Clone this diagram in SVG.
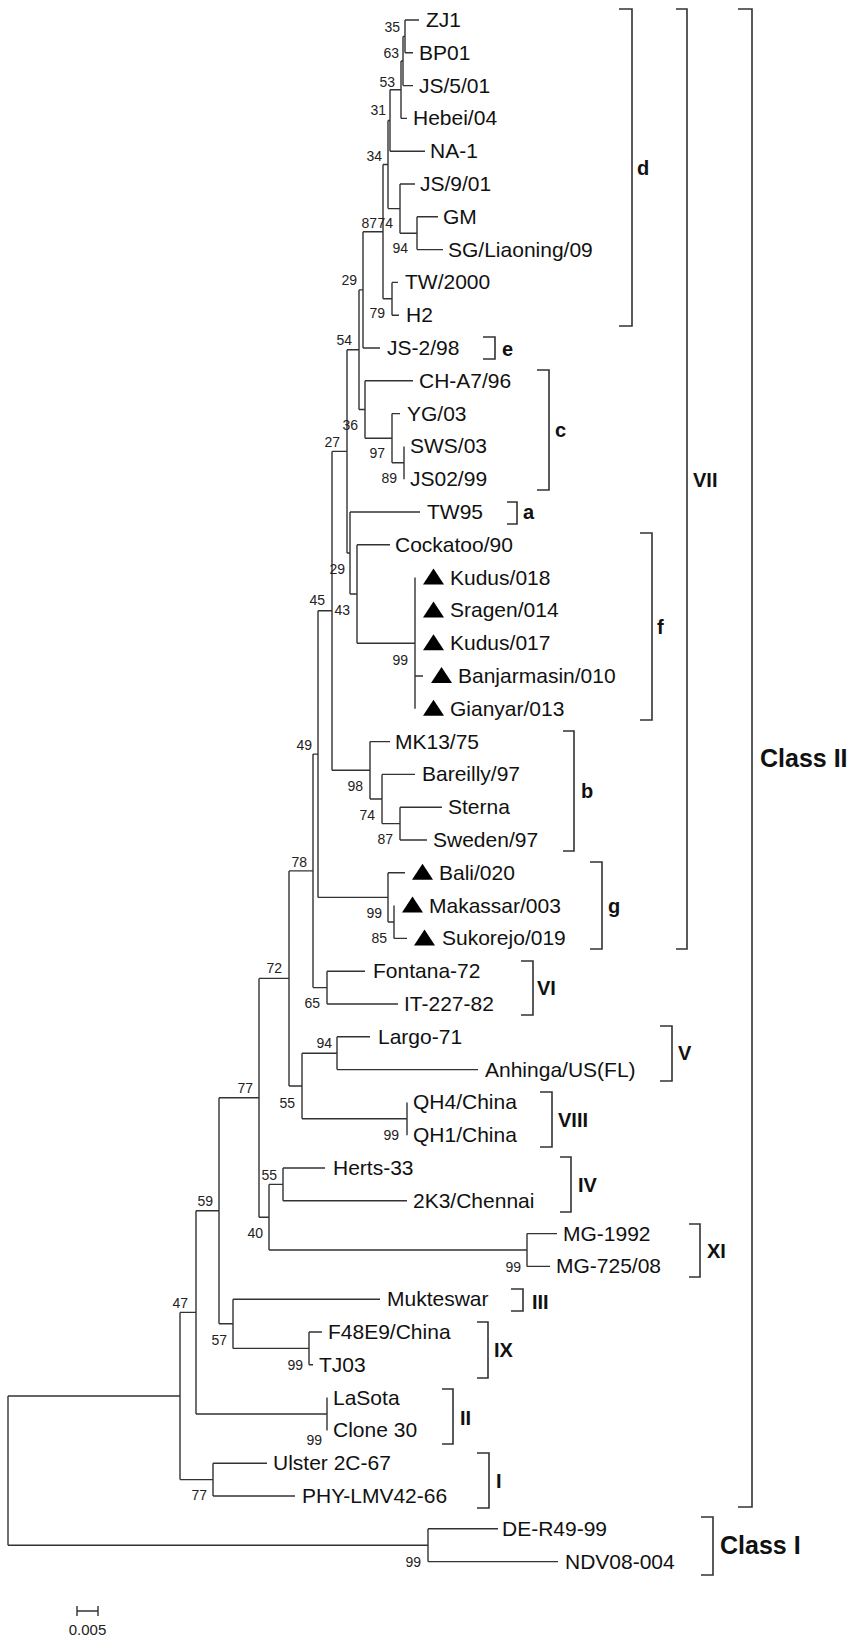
<svg xmlns="http://www.w3.org/2000/svg" width="852" height="1638" viewBox="0 0 852 1638">
<style>
.br{fill:none;stroke:#333;stroke-width:1.4}
.bk{fill:none;stroke:#333;stroke-width:1.6}
.lf{font-family:"Liberation Sans",Arial,sans-serif;font-size:21px;fill:#111}
.bs{font-family:"Liberation Sans",Arial,sans-serif;font-size:14px;fill:#222;text-anchor:end}
.gl{font-family:"Liberation Sans",Arial,sans-serif;font-size:20px;font-weight:bold;fill:#111}
.cl{font-family:"Liberation Sans",Arial,sans-serif;font-size:25px;font-weight:bold;fill:#111}
.tri{fill:#000}
</style>
<defs>
<polygon id="tri" class="tri" points="0,7 21,7 10.5,-9"/>
</defs>
<rect width="852" height="1638" fill="#fff"/>
<g id="branches" class="br">
<path d="M405 20V52.8M405 20H419M405 52.8H413
M403 36.4V85.6M403 36.4H405M403 85.6H413
M401 61V118.4M401 61H403M401 118.4H407
M390 89.7V151.2M390 89.7H401M390 151.2H425
M400 184V233.2M400 184H415M400 233.2H417
M417 216.8V249.6M417 216.8H438M417 249.6H443
M388 120.5V208.6M388 120.5H390M388 208.6H400
M392 282.4V315.2M392 282.4H398M392 315.2H399
M383 164.5V298.8M383 164.5H388M383 298.8H392
M363 231.7V348M363 231.7H383M363 348H380
M404 446.4V479.2
M392 413.6V462.8M392 413.6H400M392 462.8H404
M365 380.8V438.2M365 380.8H413M365 438.2H392
M359 289.9V409.5M359 289.9H363M359 409.5H365
M415 577.6V708.8M415 676H423
M357 544.8V643.2M357 544.8H390M357 643.2H415
M350 512V594M350 512H420M350 594H357
M347 349.7V553M347 349.7H359M347 553H350
M400 807.2V840M400 807.2H442M400 840H427
M382 774.4V823.6M382 774.4H415M382 823.6H400
M370 741.6V799M370 741.6H390M370 799H382
M332 451.4V770.3M332 451.4H347M332 770.3H370
M394 905.6V938.4M394 938.4H407
M388 872.8V922M388 872.8H405M388 922H394
M318 610.8V897.4M318 610.8H332M318 897.4H388
M327 971.2V1004M327 971.2H365M327 1004H398
M313 754.1V987.6M313 754.1H318M313 987.6H327
M337 1036.8V1069.6M337 1036.8H370M337 1069.6H478
M407 1102.4V1135.2
M302 1053.2V1118.8M302 1053.2H337M302 1118.8H407
M289 870.9V1086M289 870.9H313M289 1086H302
M283 1168V1200.8M283 1168H325M283 1200.8H407
M527 1233.6V1266.4M527 1233.6H557M527 1266.4H550
M269 1184.4V1250M269 1184.4H283M269 1250H527
M259 978.4V1217.2M259 978.4H289M259 1217.2H269
M309 1332V1364.8M309 1332H322M309 1364.8H313
M233 1299.2V1348.4M233 1299.2H380M233 1348.4H309
M219 1097.8V1323.8M219 1097.8H259M219 1323.8H233
M327 1397.6V1430.4
M196 1210.8V1414M196 1210.8H219M196 1414H327
M213 1463.2V1496M213 1463.2H267M213 1496H295
M180 1312.4V1479.6M180 1312.4H196M180 1479.6H213
M428 1528.8V1561.6M428 1528.8H498M428 1561.6H558
M8 1396V1545.2M8 1396H180M8 1545.2H428"/>
</g>
<g id="bootstrap" class="bs">
<text x="400" y="32">35</text>
<text x="399" y="58">63</text>
<text x="395" y="87">53</text>
<text x="386" y="115">31</text>
<text x="382" y="161">34</text>
<text x="377" y="228">87</text>
<text x="393" y="228">74</text>
<text x="408" y="253">94</text>
<text x="357" y="285">29</text>
<text x="385" y="318">79</text>
<text x="352" y="345">54</text>
<text x="358" y="430">36</text>
<text x="340" y="447">27</text>
<text x="385" y="458">97</text>
<text x="397" y="483">89</text>
<text x="345" y="574">29</text>
<text x="350" y="615">43</text>
<text x="325" y="605">45</text>
<text x="408" y="665">99</text>
<text x="312" y="750">49</text>
<text x="363" y="791">98</text>
<text x="375" y="820">74</text>
<text x="393" y="844">87</text>
<text x="307" y="867">78</text>
<text x="382" y="918">99</text>
<text x="387" y="943">85</text>
<text x="282" y="973">72</text>
<text x="320" y="1008">65</text>
<text x="332" y="1048">94</text>
<text x="295" y="1108">55</text>
<text x="399" y="1140">99</text>
<text x="253" y="1093">77</text>
<text x="277" y="1180">55</text>
<text x="263" y="1238">40</text>
<text x="213" y="1206">59</text>
<text x="521" y="1272">99</text>
<text x="188" y="1308">47</text>
<text x="227" y="1345">57</text>
<text x="303" y="1370">99</text>
<text x="322" y="1445">99</text>
<text x="207" y="1500">77</text>
<text x="421" y="1567">99</text>
</g>
<g id="leaves" class="lf">
<g id="n-ZJ1"><text x="426" y="27">ZJ1</text></g>
<g id="n-BP01"><text x="419" y="60">BP01</text></g>
<g id="n-JS5"><text x="419" y="93">JS/5/01</text></g>
<g id="n-Hebei"><text x="413" y="125">Hebei/04</text></g>
<g id="n-NA1"><text x="430" y="158">NA-1</text></g>
<g id="n-JS9"><text x="420" y="191">JS/9/01</text></g>
<g id="n-GM"><text x="443" y="224">GM</text></g>
<g id="n-SG"><text x="448" y="257">SG/Liaoning/09</text></g>
<g id="n-TW2000"><text x="405" y="289">TW/2000</text></g>
<g id="n-H2"><text x="406" y="322">H2</text></g>
<g id="n-JS2"><text x="387" y="355">JS-2/98</text></g>
<g id="n-CHA7"><text x="419" y="388">CH-A7/96</text></g>
<g id="n-YG"><text x="407" y="421">YG/03</text></g>
<g id="n-SWS"><text x="410" y="453">SWS/03</text></g>
<g id="n-JS02"><text x="410" y="486">JS02/99</text></g>
<g id="n-TW95"><text x="427" y="519">TW95</text></g>
<g id="n-Cockatoo"><text x="395" y="552">Cockatoo/90</text></g>
<g id="n-Kudus018"><use href="#tri" x="423" y="577.6"/><text x="450" y="585">Kudus/018</text></g>
<g id="n-Sragen"><use href="#tri" x="423" y="610.4"/><text x="450" y="617">Sragen/014</text></g>
<g id="n-Kudus017"><use href="#tri" x="423" y="643.2"/><text x="450" y="650">Kudus/017</text></g>
<g id="n-Banjarmasin"><use href="#tri" x="431" y="676"/><text x="458" y="683">Banjarmasin/010</text></g>
<g id="n-Gianyar"><use href="#tri" x="423" y="708.8"/><text x="450" y="716">Gianyar/013</text></g>
<g id="n-MK13"><text x="395" y="749">MK13/75</text></g>
<g id="n-Bareilly"><text x="422" y="781">Bareilly/97</text></g>
<g id="n-Sterna"><text x="448" y="814">Sterna</text></g>
<g id="n-Sweden"><text x="433" y="847">Sweden/97</text></g>
<g id="n-Bali"><use href="#tri" x="412" y="872.8"/><text x="439" y="880">Bali/020</text></g>
<g id="n-Makassar"><use href="#tri" x="402" y="905.6"/><text x="429" y="913">Makassar/003</text></g>
<g id="n-Sukorejo"><use href="#tri" x="414" y="938.4"/><text x="442" y="945">Sukorejo/019</text></g>
<g id="n-Fontana"><text x="373" y="978">Fontana-72</text></g>
<g id="n-IT227"><text x="404" y="1011">IT-227-82</text></g>
<g id="n-Largo"><text x="378" y="1044">Largo-71</text></g>
<g id="n-Anhinga"><text x="485" y="1077">Anhinga/US(FL)</text></g>
<g id="n-QH4"><text x="413" y="1109">QH4/China</text></g>
<g id="n-QH1"><text x="413" y="1142">QH1/China</text></g>
<g id="n-Herts"><text x="333" y="1175">Herts-33</text></g>
<g id="n-2K3"><text x="413" y="1208">2K3/Chennai</text></g>
<g id="n-MG1992"><text x="563" y="1241">MG-1992</text></g>
<g id="n-MG725"><text x="556" y="1273">MG-725/08</text></g>
<g id="n-Mukteswar"><text x="387" y="1306">Mukteswar</text></g>
<g id="n-F48E9"><text x="328" y="1339">F48E9/China</text></g>
<g id="n-TJ03"><text x="319" y="1372">TJ03</text></g>
<g id="n-LaSota"><text x="333" y="1405">LaSota</text></g>
<g id="n-Clone30"><text x="333" y="1437">Clone 30</text></g>
<g id="n-Ulster"><text x="273" y="1470">Ulster 2C-67</text></g>
<g id="n-PHY"><text x="302" y="1503">PHY-LMV42-66</text></g>
<g id="n-DER49"><text x="502" y="1536">DE-R49-99</text></g>
<g id="n-NDV08"><text x="565" y="1569">NDV08-004</text></g>
</g>
<g id="brackets" class="bk">
<path d="M619 9H632V326H619
M483 337H495V359H483
M537 370H549V490H537
M507 502H517V524H507
M640 533H652V720H640
M563 731H574V851H563
M590 862H602V949H590
M676 9H687V949H676
M738 9H752V1507H738
M521 961H533V1015H521
M660 1026H672V1081H660
M540 1092H552V1147H540
M560 1157H571V1212H560
M689 1224H700V1277H689
M511 1289H523V1311H511
M477 1322H488V1378H477
M442 1389H453V1444H442
M477 1453H489V1508H477
M701 1517H713V1575H701"/>
</g>
<g id="group-labels" class="gl">
<text x="637" y="175">d</text>
<text x="502" y="356">e</text>
<text x="555" y="437">c</text>
<text x="523" y="519">a</text>
<text x="657" y="634">f</text>
<text x="581" y="798">b</text>
<text x="608" y="913">g</text>
<text x="693" y="487">VII</text>
<text x="537" y="995">VI</text>
<text x="678" y="1060">V</text>
<text x="558" y="1127">VIII</text>
<text x="578" y="1192">IV</text>
<text x="707" y="1258">XI</text>
<text x="532" y="1309">III</text>
<text x="494" y="1357">IX</text>
<text x="460" y="1425">II</text>
<text x="496" y="1488">I</text>
</g>
<g id="class-labels" class="cl">
<text x="760" y="767">Class II</text>
<text x="720" y="1554">Class I</text>
</g>
<g id="scale-bar">
<path class="br" d="M77 1611H98M77 1606V1616M98 1606V1616"/>
<text x="87.5" y="1635" text-anchor="middle" font-family="Liberation Sans, Arial, sans-serif" font-size="15" fill="#222">0.005</text>
</g>
</svg>
